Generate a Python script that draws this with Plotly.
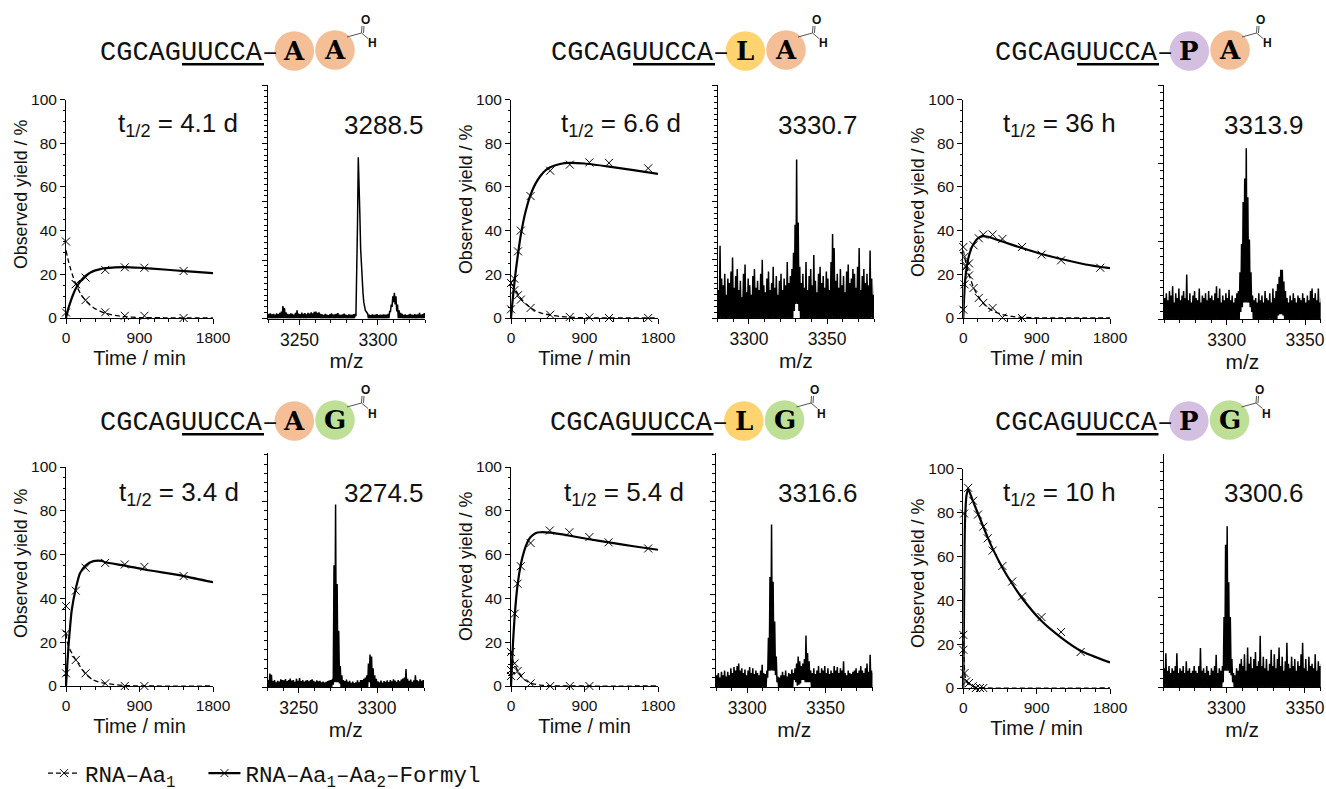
import plotly.graph_objects as go

W, H = 1326, 789
FIG_H = 805  # a little taller than the window, so the legend can sit low without pushing the margins
SANS = "Liberation Sans"
MONO = "Liberation Mono"

# ---------- panel meta ----------
seq_text = "CGCAGUUCCA"
residues = [("A", "A"), ("L", "A"), ("P", "A"), ("A", "G"), ("L", "G"), ("P", "G")]
half_lives = ["4.1 d", "6.6 d", "36 h", "3.4 d", "5.4 d", "10 h"]
masses = ["3288.5", "3330.7", "3313.9", "3274.5", "3316.6", "3300.6"]
mz_starts = [3230, 3280, 3260, 3230, 3280, 3260]
mz_tick0 = [3250, 3300, 3300, 3250, 3300, 3300]
spec_major = [25, 25, 33.33, 39.7, 39.7, 38.5]

# ---------- kinetics: fitted curves ----------
fit_t = [
    [0, 30, 60, 90, 120, 180, 240, 300, 360, 420, 480, 600, 720, 900, 1200, 1500, 1800],
    [0, 15, 30, 60, 90, 120, 180, 240, 300, 360, 420, 480, 600, 720, 900, 1200, 1500, 1800],
    [0, 5, 15, 30, 60, 90, 120, 180, 240, 300, 480, 720, 960, 1200, 1500, 1800],
    [0, 15, 30, 50, 70, 120, 170, 240, 335, 440, 480, 720, 960, 1440, 1800],
    [0, 10, 25, 45, 80, 120, 160, 200, 240, 300, 360, 480, 720, 960, 1200, 1500, 1800],
    [0, 10, 20, 40, 60, 120, 180, 240, 300, 360, 480, 600, 720, 960, 1200, 1440, 1800],
]
fit_product = [
    [0, 4.5, 8, 11, 13.5, 17, 19.3, 20.8, 21.8, 22.4, 22.8, 23.2, 23.3, 23, 22.2, 21.3, 20.5],
    [0, 6, 12, 22, 30.5, 38, 49, 56.5, 61.5, 65, 67.5, 69, 70.5, 71, 70.7, 69.3, 67.7, 66],
    [0, 5, 13, 20, 27, 31, 33.5, 36.5, 37.5, 37.2, 35, 32, 29.3, 27, 24.5, 22.8],
    [0, 9, 18, 27, 34.6, 44.5, 51.4, 55, 57, 57.1, 56.5, 55, 53.2, 50.2, 47.4],
    [0, 8, 20, 32, 46, 55.5, 61.5, 65.5, 68, 69.8, 70.2, 70, 68.6, 67, 65.6, 63.8, 62.2],
    [0, 40, 75, 88, 90.5, 85, 79.5, 74, 68.5, 63.5, 54.8, 47.5, 41, 30.5, 23, 17, 11.6],
]
fit2_t = [
    [0, 30, 60, 90, 120, 180, 240, 300, 360, 480, 600, 720, 900, 1200, 1800],
    [0, 30, 60, 120, 180, 240, 300, 360, 480, 600, 720, 900, 1800],
    [0, 15, 30, 60, 120, 180, 240, 300, 360, 480, 600, 720, 900, 1800],
    [0, 15, 30, 50, 120, 240, 335, 480, 720, 1800],
    [0, 15, 30, 45, 80, 120, 180, 240, 360, 480, 1800],
    [0, 5, 10, 20, 40, 60, 120, 180, 300, 1800],
]
fit_start = [
    [31, 26, 22, 18.5, 15.5, 11, 8, 5.8, 4.2, 2.2, 1.2, 0.6, 0.2, 0.1, 0],
    [15.5, 14.5, 12.5, 9, 6.5, 4.6, 3.3, 2.4, 1.3, 0.7, 0.4, 0.1, 0],
    [31, 28, 25.5, 21, 14.5, 10, 7, 4.8, 3.3, 1.6, 0.7, 0.3, 0.1, 0],
    [24, 20, 18.5, 16.5, 11.9, 5.5, 2.7, 1.2, 0.2, 0],
    [16, 12.5, 11, 10, 7, 4.7, 2.5, 1.3, 0.4, 0.1, 0],
    [25, 18, 12, 6, 3, 2, 0.7, 0.2, 0, 0],
]

# ---------- kinetics: measured points ----------
pts_prod_t = [
    [0, 120, 240, 480, 720, 960, 1440],
    [0, 40, 85, 120, 240, 480, 720, 960, 1200, 1680],
    [0, 15, 35, 70, 125, 190, 245, 360, 480, 720, 960, 1200, 1680],
    [0, 120, 240, 480, 720, 960, 1440],
    [0, 45, 80, 120, 240, 475, 715, 960, 1195, 1680],
    [10, 60, 120, 180, 245, 300, 360, 480, 600, 720, 960, 1200, 1440],
]
pts_prod = [
    [2.5, 15.5, 18.5, 22, 23.2, 23, 21.5],
    [4, 18, 30.5, 40, 55.8, 67.4, 70.2, 71.2, 71, 68.5],
    [3.8, 15.4, 24, 25, 33.3, 36.5, 38.2, 38.2, 36.2, 32.5, 29, 26.4, 23],
    [5.8, 43.5, 54, 56.2, 55.5, 54.4, 50.2],
    [4.6, 33, 46.7, 54.7, 65.3, 71, 70.2, 68, 65.6, 62.8],
    [79.5, 91.2, 85.3, 79, 73.5, 68.2, 62.6, 55.6, 48.5, 41.7, 32.3, 25.5, 16.4],
]
pts_start_t = [
    [0, 120, 240, 480, 720, 960, 1440],
    [0, 40, 85, 120, 240, 480, 720, 960, 1200, 1680],
    [0, 15, 35, 70, 125, 190, 245, 360, 480, 720],
    [0, 0, 120, 240, 480, 720, 960],
    [0, 0, 45, 80, 120, 240, 480, 720, 960],
    [0, 0, 15, 35, 70, 115, 155, 205, 245],
]
pts_start = [
    [35, 15.5, 8.2, 2.6, 1, 1, 0],
    [16, 12.7, 10.4, 8.4, 4.6, 1.5, 0.5, 0.3, 0, 0],
    [32.5, 28, 23.4, 19.5, 13.7, 9.2, 6.9, 4.6, 0.2, 0],
    [36.5, 24, 11.9, 5.8, 1.2, 0, 0],
    [15.5, 7.3, 10.3, 6.8, 4.5, 1.2, 0, 0, 0],
    [24.2, 17.4, 6.8, 3, 2.3, 0.8, 0, 0, 0],
]

# ---------- spectra: upper intensity per m/z unit, % of axis height ----------
hi_AA = [2,2.2,1.8,2,1.6,2.2,1.9,2.4,3,5.3, 4.5,2.6,2,1.8,2.2,2,1.7,2.4,3.5,2.1,
         1.9,2.5,2,2.3,1.8,2.4,2.1,2.6,2.2,2.8, 3,2.4,2.6,2,1.8,1.5,2,1.6,1.4,1.9,
         2.2,1.6,1.8,2,2.3,1.7,1.5,1.8,2.1,1.6, 1.4,1.8,1.6,1.5,1.9,2,36,69,45,22,
         11,5,3,2,1.7,1.4,1.8,1.5,1.6,1.9, 1.4,1.7,1.5,1.8,1.6,1.7,2,3,6,9.5,
         11,9.5,6,3.5,2.4,2,1.5,1.8,1.4,1.7, 2,1.6,1.5,1.9,1.6,1.8,2.4,1.7,1.9,2.3,1.8]
lo_AA = {56:1, 57:40, 58:60, 59:30, 60:15, 61:7, 62:3.5, 63:2.4, 78:3, 79:5, 80:7, 81:6, 82:3}

hi_LA = [12,31,17,14,19,10,17,15,20,26, 13,18,21,12,16,9,19,23,11,17,
         14,10,18,21,13,16,12,19,25,14, 11,17,20,12,15,22,13,18,10,16,
         19,12,17,14,24,15,18,21,28,40, 68,41,22,15,19,13,24,12,18,21,
         14,27,16,11,19,22,15,18,13,20, 17,12,24,36,30,16,19,13,21,14,
         18,11,20,23,15,17,21,19,13,22, 30,12,18,21,15,19,14,29,17,10,16]
lo_LA = {49:3, 50:6, 51:6, 52:3}

hi_PA = [9,11,8,12,10,14,7,11,9,13, 8,10,12,9,19,8,11,7,10,12,
         9,8,13,7,10,9,11,8,12,9, 10,8,11,14,9,13,7,10,8,11,
         9,12.5,8,10,7,9,11,12,20,32, 50,60,73,52,34,20,10,8,9,7,
         11,8,10,7,12,9,8,11,7,13, 9,12,15,18,21,21,16,12,9,7,
         10,8,11,9,7,10,9,8,11,9, 7,10,8,12,13,9,11,8,13,7,9]
lo_PA = {49:3, 50:5, 51:7, 52:7, 53:7, 54:7, 55:5, 56:3, 73:1.5, 74:2, 75:2, 76:1.5}

hi_AG = [3,5.7,5.2,2.5,3,2,2.6,2.3,3.3,3, 2.8,3.4,2.5,3,3.6,2.7,3,2.2,3.5,2.6,
         3.8,2.5,3,2.3,2.7,3,2.4,2.9,3.3,2.6, 2.2,2.8,2.4,2.6,2,2.3,1.9,2.2,2.5,2.8,
         3,3.5,52,78,44,24,9,5,3,2.5, 3.2,2.2,2.6,1.8,2.3,1.7,2,2.8,2,3,
         3,3.5,4,5,10,13.9,13,8,5,3.5, 2.4,2,2.7,1.9,2.5,2.2,2.8,2.1,3,2.4,
         3.3,2.7,2.2,2.9,2.4,3.2,3.6,4,7.7,3.5, 2.6,3.2,2.2,2.8,5,3,2.4,3.3,2.6,3,2.8]
lo_AG = {42:1, 43:2, 44:2, 45:2, 46:1.5, 65:2}

hi_LG = [5,6,4,6.5,5,7,4.5,6.5,5,8, 6,8.5,7,9,10,7,8,6,7.5,5,
         7,8.5,6,8,5.5,7,6,5,7,9.5, 6,5.5,7,21,47,69.4,45,28,13,4.5,
         4,5,6.5,5,7,4.5,6,5.5,7.5,6, 8,10,13,11,9,10,12,22,14.5,11,
         7,6,8,5.5,7,9,6,8,7,9, 6,8,5.5,7,6,9,7,8.5,6,8,
         7,11,6,5,7,6,5.5,6.5,7,8, 6,7,9,7,6,8,10,6.5,13.8,7,6]
lo_LG = {33:4, 34:7, 35:7, 36:7, 37:7, 38:5, 39:2, 50:3, 51:2, 52:0.5, 53:1, 54:1.5,
         55:3, 56:3, 57:2, 58:2, 59:2, 60:2}

hi_PG = [8,14.5,7,9,6,8,7,9,14.5,6, 8,7,9,6,11,7,8,6,7,9,
         7,6,9,16.7,7,8,6,9,7,5, 8,7,9,13.8,6,8,7,9,30,61,
         69,45,30,12,6,5,8,7,10,12, 9,14,7,17,10,13,8,12,15,9,
         11,22,9,13,8,12,7,10,16,9, 14,8,12,17,9,13,7,11,19,10,
         8,13,9,12,7,11,9,14,19,8, 12,7,13,9,10,8,14,7,11,9,10]
lo_PG = {38:2, 39:7, 40:7, 41:7, 42:6, 43:5, 44:2}

spectra_hi = [hi_AA, hi_LA, hi_PA, hi_AG, hi_LG, hi_PG]
spectra_lo = [lo_AA, lo_LA, lo_PA, lo_AG, lo_LG, lo_PG]

# ---------- pixel layout ----------
chart_x = [(66, 213), (511, 658), (963.3, 1110), (66, 213), (511, 658), (963.3, 1110)]
chart_y = [(99.5, 318), (99.5, 318), (99.5, 318), (467, 686), (467, 686), (468.5, 688)]
spec_x = [(268, 425), (717.7, 874), (1164, 1320.7), (267.5, 424), (716, 872.5), (1163.5, 1320.7)]
spec_y = [(85, 318.5), (85, 318), (85, 319), (453, 687), (453, 687), (454, 687)]
seq_dx = [0, 451, 895, 0, 449.5, 894.5]
seq_dy = [0, 0, 0, 370, 370, 370]
halflife_left = [116, 559, 1001, 117, 562, 1001]
mass_right = [426, 859.5, 1305.5, 425.5, 859.5, 1305.5]
title_y = [125, 125, 125, 493, 493, 493]
ytitle_x = [21, 466, 918, 21, 466, 918]
ytitle_y = [195, 199, 203, 564, 566, 574]

res_color = {"A": "#F4BE96", "L": "#FFD470", "P": "#D4BFE0", "G": "#BEE096"}


def fx(p):
    return p / W


def fy(p):
    return 1 - p / FIG_H


fig = go.Figure()
shapes, annotations = [], []
layout_axes = {}


def ax_common(size):
    return dict(
        showline=True, linecolor="black", linewidth=1, showgrid=False, zeroline=False, automargin=False,
        ticks="outside", ticklen=5, tickwidth=1, tickcolor="black",
        tickfont=dict(family=SANS, size=size, color="#111111"),
    )


for p in range(6):
    ca, sa = 2 * p + 1, 2 * p + 2
    cx, cy, sx, sy = f"x{ca}", f"y{ca}", f"x{sa}", f"y{sa}"
    # kinetics
    fig.add_trace(go.Scatter(x=fit2_t[p], y=fit_start[p], xaxis=cx, yaxis=cy, mode="lines",
                             line=dict(color="black", width=1.3, dash="5px,3px", shape="spline", smoothing=0.6),
                             showlegend=False, cliponaxis=False, hoverinfo="skip"))
    fig.add_trace(go.Scatter(x=fit_t[p], y=fit_product[p], xaxis=cx, yaxis=cy, mode="lines",
                             line=dict(color="black", width=2.2, shape="spline", smoothing=0.6),
                             showlegend=False, cliponaxis=False, hoverinfo="skip"))
    for tx, ty in ((pts_start_t[p], pts_start[p]), (pts_prod_t[p], pts_prod[p])):
        fig.add_trace(go.Scatter(x=tx, y=ty, xaxis=cx, yaxis=cy, mode="markers",
                                 marker=dict(symbol="x-thin", size=8, color="black",
                                             line=dict(width=1, color="black")),
                                 showlegend=False, cliponaxis=False))
    # spectrum
    xs, ys = [], []
    for i, v in enumerate(spectra_hi[p]):
        xs += [mz_starts[p] + i, mz_starts[p] + i + 0.5]
        ys += [spectra_lo[p].get(i, 0), v]
    fig.add_trace(go.Scatter(x=xs, y=ys, xaxis=sx, yaxis=sy, mode="lines",
                             line=dict(color="black", width=1.5),
                             showlegend=False, hoverinfo="skip"))

    x0, x1 = chart_x[p]
    y0, y1 = chart_y[p]
    layout_axes[f"xaxis{ca}"] = dict(
        ax_common(15.5), domain=[fx(x0), fx(x1)], range=[0, 1800], anchor=cy,
        tickvals=[0, 900, 1800], minor=dict(ticks="outside", dtick=180, ticklen=3, tickcolor="black"),
        title=dict(text="Time / min", font=dict(family=SANS, size=20, color="#111111"), standoff=6),
    )
    layout_axes[f"yaxis{ca}"] = dict(
        ax_common(15.5), domain=[fy(y1), fy(y0)], range=[0, 100], anchor=cx,
        dtick=20, tick0=0, minor=dict(ticks="outside", dtick=5, ticklen=2.5, tickcolor="black"),
    )
    annotations.append(dict(text="Observed yield / %", xref="paper", yref="paper", x=fx(ytitle_x[p]),
                            y=fy(ytitle_y[p]), textangle=-90, showarrow=False,
                            xanchor="center", yanchor="middle",
                            font=dict(family=SANS, size=17.8, color="#111111")))
    x0, x1 = spec_x[p]
    y0, y1 = spec_y[p]
    layout_axes[f"xaxis{sa}"] = dict(
        ax_common(17.5), domain=[fx(x0), fx(x1)], range=[mz_starts[p], mz_starts[p] + 100], anchor=sy,
        dtick=50, tick0=mz_tick0[p],
        minor=dict(ticks="outside", dtick=10, tick0=mz_tick0[p], ticklen=3, tickcolor="black"),
        title=dict(text="m/z", font=dict(family=SANS, size=21, color="#111111"), standoff=4),
    )
    layout_axes[f"yaxis{sa}"] = dict(
        ax_common(10), domain=[fy(y1), fy(y0)], range=[0, 100], anchor=sx,
        dtick=spec_major[p], tick0=0, showticklabels=False,
        minor=dict(ticks="outside", dtick=spec_major[p] / 10, ticklen=3, tickcolor="black"),
    )

    # inset labels
    annotations.append(dict(text=f"t<sub>1/2</sub> = {half_lives[p]}", xref="paper", yref="paper",
                            x=fx(halflife_left[p]), y=fy(title_y[p]), showarrow=False,
                            xanchor="left", yanchor="middle",
                            font=dict(family=SANS, size=26, color="#111111")))
    annotations.append(dict(text=masses[p], xref="paper", yref="paper",
                            x=fx(mass_right[p]), y=fy(title_y[p]), showarrow=False,
                            xanchor="right", yanchor="middle",
                            font=dict(family=SANS, size=26, color="#111111")))

    # construct header
    dx, dy = seq_dx[p], seq_dy[p]
    annotations.append(dict(text=seq_text + "–", xref="paper", yref="paper", x=fx(98 + dx), y=fy(53 + dy),
                            showarrow=False, xanchor="left", yanchor="middle",
                            font=dict(family=MONO, size=27, color="#111111")))
    shapes.append(dict(type="line", xref="paper", yref="paper", x0=fx(182 + dx), x1=fx(264 + dx),
                       y0=fy(64.3 + dy), y1=fy(64.3 + dy), line=dict(color="black", width=2.4)))
    for (cxp, cyp), r in zip(((294.3, 51), (335, 50)), residues[p]):
        shapes.append(dict(type="circle", xref="paper", yref="paper", x0=fx(cxp + dx - 19.8), x1=fx(cxp + dx + 19.8),
                           y0=fy(cyp + dy + 19.8), y1=fy(cyp + dy - 19.8),
                           fillcolor=res_color[r], line=dict(width=0)))
        annotations.append(dict(text=f"<b>{r}</b>", xref="paper", yref="paper", x=fx(cxp + dx), y=fy(cyp + dy),
                                showarrow=False, xanchor="center", yanchor="middle",
                                font=dict(family="DejaVu Serif", size=26, color="black")))
    for ax0, ay0, ax1, ay1 in ((347, 37, 361.5, 33), (361.5, 33, 368, 38.5), (361.5, 33, 362, 26), (363.5, 33, 364, 26)):
        shapes.append(dict(type="line", xref="paper", yref="paper", x0=fx(ax0 + dx), x1=fx(ax1 + dx),
                           y0=fy(ay0 + dy), y1=fy(ay1 + dy), line=dict(color="#555555", width=1)))
    for t, ox, oy in (("O", 365, 20), ("H", 372, 43.5)):
        annotations.append(dict(text=f"<b>{t}</b>", xref="paper", yref="paper", x=fx(ox + dx), y=fy(oy + dy),
                                showarrow=False, xanchor="center", yanchor="middle",
                                font=dict(family=SANS, size=12, color="#111111")))

# legend entries
for name, dash, width in (("RNA–Aa<sub>1\u00a0</sub>\u00a0", "5px,3px", 1.3), ("RNA–Aa<sub>1</sub>–Aa<sub>2</sub>–Formyl", "solid", 2.4)):
    fig.add_trace(go.Scatter(x=[None], y=[None], xaxis="x1", yaxis="y1", mode="lines+markers", name=name,
                             line=dict(color="black", width=width, dash=dash),
                             marker=dict(symbol="x-thin", size=8, color="black", line=dict(width=1, color="black"))))

fig.update_layout(
    width=W, height=FIG_H, autosize=False, paper_bgcolor="white", plot_bgcolor="white",
    margin=dict(l=0, r=0, t=0, b=0), shapes=shapes, annotations=annotations,
    font=dict(family=SANS, color="#111111"),
    legend=dict(orientation="h", x=fx(43), y=fy(795), xanchor="left", yanchor="bottom",
                font=dict(family=MONO, size=22.5, color="#111111"), itemwidth=32,
                bgcolor="rgba(0,0,0,0)", traceorder="normal"),
    **layout_axes,
)
fig.write_html("out.html", config=dict(displayModeBar=False),
               post_script="document.body.style.margin='0';document.documentElement.style.overflow='hidden';")
